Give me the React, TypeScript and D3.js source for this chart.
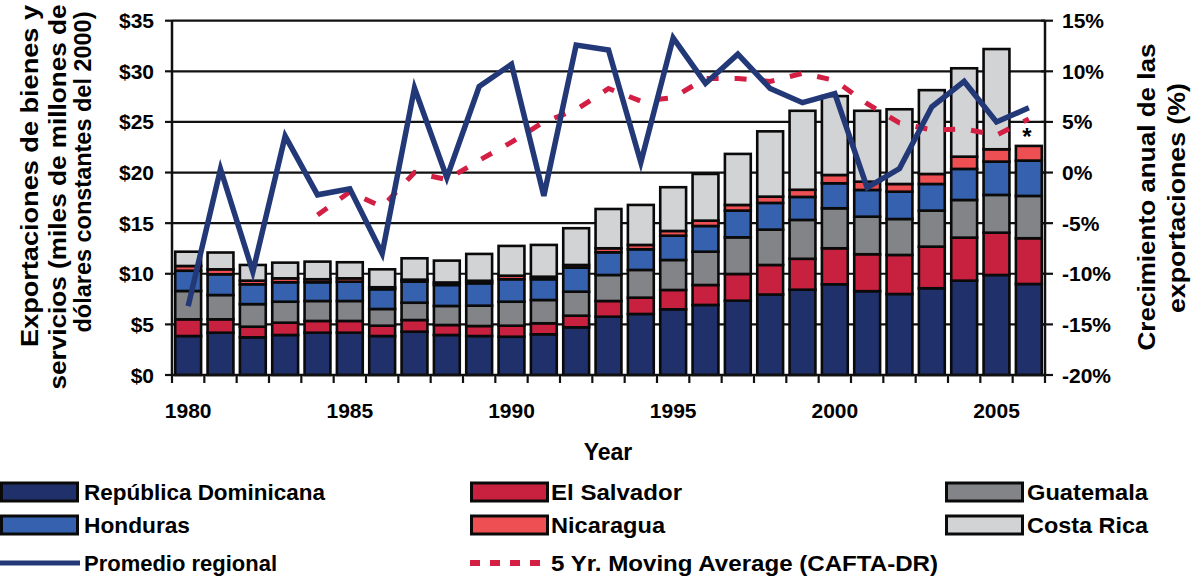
import React from 'react';
import * as d3 from 'd3';

const years = [1980, 1981, 1982, 1983, 1984, 1985, 1986, 1987, 1988, 1989, 1990, 1991, 1992, 1993, 1994, 1995, 1996, 1997, 1998, 1999, 2000, 2001, 2002, 2003, 2004, 2005, 2006];

const seriesNames = ['República Dominicana', 'El Salvador', 'Guatemala', 'Honduras', 'Nicaragua', 'Costa Rica'];

const dominicana = [3.85, 4.18, 3.72, 3.95, 4.18, 4.18, 3.85, 4.28, 3.95, 3.85, 3.78, 4.02, 4.71, 5.76, 6.03, 6.49, 6.92, 7.34, 7.95, 8.43, 8.96, 8.28, 8.0, 8.57, 9.32, 9.88, 8.99];
const elSalvador = [1.65, 1.32, 1.05, 1.22, 1.16, 1.16, 1.02, 1.15, 0.99, 0.99, 1.09, 1.09, 1.15, 1.55, 1.61, 1.91, 1.97, 2.64, 2.92, 3.05, 3.56, 3.65, 3.86, 4.11, 4.25, 4.18, 4.52];
const guatemala = [2.8, 2.4, 2.23, 2.07, 1.97, 1.97, 1.65, 1.71, 1.88, 2.01, 2.37, 2.3, 2.37, 2.57, 2.74, 2.96, 3.29, 3.62, 3.49, 3.84, 3.95, 3.71, 3.55, 3.56, 3.72, 3.73, 4.18];
const honduras = [2.0, 2.05, 1.96, 1.92, 1.85, 1.91, 1.95, 2.08, 2.07, 2.21, 2.22, 2.05, 2.37, 2.24, 2.04, 2.4, 2.54, 2.64, 2.64, 2.27, 2.47, 2.64, 2.7, 2.63, 3.07, 3.29, 3.49];
const nicaragua = [0.47, 0.49, 0.36, 0.39, 0.3, 0.33, 0.2, 0.2, 0.25, 0.25, 0.35, 0.25, 0.27, 0.4, 0.43, 0.47, 0.53, 0.56, 0.62, 0.71, 0.82, 0.82, 0.76, 0.99, 1.21, 1.22, 1.45];
const costaRica = [1.41, 1.66, 1.55, 1.55, 1.74, 1.59, 1.77, 2.11, 2.16, 2.65, 2.94, 3.14, 3.63, 3.88, 3.95, 4.32, 4.61, 5.04, 6.45, 7.8, 7.79, 7.0, 7.38, 8.28, 8.73, 9.9, 0];

// annual growth, %
const promedioRegional = [-13.2, 0.35, -9.8, 3.6, -2.2, -1.6, -8.0, 8.35, -0.5, 8.5, 10.7, -2.3, 12.6, 12.1, 1.0, 13.3, 8.8, 11.7, 8.3, 6.9, 7.8, -1.5, 0.4, 6.5, 9.0, 5.0, 6.4];
const movingAverage: (number | null)[] = [null, null, null, null, -4.2, -1.9, -3.4, 0.0, -0.7, 1.2, 3.0, 5.0, 6.2, 8.3, 7.05, 7.4, 9.3, 9.3, 9.0, 9.8, 9.1, 6.8, 4.9, 4.2, 4.3, 3.7, 5.3];

const leftTicks = [0, 5, 10, 15, 20, 25, 30, 35];
const rightTicks = [-20, -15, -10, -5, 0, 5, 10, 15];
const yearLabels = [1980, 1985, 1990, 1995, 2000, 2005];

const seriesColors = ['#20306A', '#C8203F', '#838487', '#3561AE', '#EE4F52', '#D2D3D5'];
const lineColor = '#233877';
const maColor = '#D41F45';
const FONT = '"Liberation Sans", Arial, sans-serif';

export default function App() {
  const W = 1199, H = 577;
  const left = 172, right = 1045, top = 20.7, bottom = 375;

  const x = d3.scaleBand<string>().domain(years.map(String)).range([left, right]).paddingInner(0.2).paddingOuter(0.1);
  const y = d3.scaleLinear().domain([0, 35]).range([bottom, top]);
  const y2 = d3.scaleLinear().domain([-20, 15]).range([bottom, top]);
  const bw = x.bandwidth();
  const step = x.step();

  const seriesArrays = [dominicana, elSalvador, guatemala, honduras, nicaragua, costaRica];
  const rows = years.map((yr, i) => {
    const r: any = { year: String(yr) };
    seriesNames.forEach((n, k) => (r[n] = seriesArrays[k][i]));
    return r;
  });
  const stacked = d3.stack<any>().keys(seriesNames)(rows);

  const cx = (i: number) => (x(String(years[i])) as number) + bw / 2;
  const lineGen = d3.line<number>().x((_, i) => cx(i)).y((d) => y2(d));
  const maGen = d3
    .line<number | null>()
    .defined((d) => d !== null)
    .x((_, i) => cx(i))
    .y((d) => y2(d as number));

  const boundaries = d3.range(years.length + 1).map((i) => left + i * step);

  const legendItems = [
    { name: seriesNames[0], col: 0, row: 0, type: 'rect', color: seriesColors[0], w: 241 },
    { name: seriesNames[1], col: 1, row: 0, type: 'rect', color: seriesColors[1], w: 131 },
    { name: seriesNames[2], col: 2, row: 0, type: 'rect', color: seriesColors[2], w: 121 },
    { name: seriesNames[3], col: 0, row: 1, type: 'rect', color: seriesColors[3], w: 106 },
    { name: seriesNames[4], col: 1, row: 1, type: 'rect', color: seriesColors[4], w: 114 },
    { name: seriesNames[5], col: 2, row: 1, type: 'rect', color: seriesColors[5], w: 121 },
    { name: 'Promedio regional', col: 0, row: 2, type: 'line', color: lineColor, w: 193 },
    { name: '5 Yr. Moving Average (CAFTA-DR)', col: 1, row: 2, type: 'dash', color: maColor, w: 387 },
  ];
  const colX = [0, 470, 945];
  const rowY = [492, 525, 563];

  return (
    <svg
      width={W}
      height={H}
      style={{ position: 'absolute', left: 0, top: 0, background: '#fff', fontFamily: FONT }}
    >
      <rect x={0} y={0} width={W} height={H} fill="#fff" />
      {/* gridlines */}
      {leftTicks.map((t) => (
        <line key={'g' + t} x1={left} x2={right} y1={y(t)} y2={y(t)} stroke="#111" strokeWidth={2.2} />
      ))}
      {/* bars */}
      {stacked.map((s, k) => (
        <g key={s.key} fill={seriesColors[k]}>
          {s.map((d, i) =>
            d[1] - d[0] > 0 ? (
              <rect
                key={i}
                x={x(d.data.year)}
                y={y(d[1])}
                width={bw}
                height={y(d[0]) - y(d[1])}
                stroke="#0a0a0a"
                strokeWidth={2.6}
              />
            ) : null
          )}
        </g>
      ))}
      {/* axes */}
      <line x1={left} x2={left} y1={top} y2={bottom + 1} stroke="#111" strokeWidth={2.5} />
      <line x1={right} x2={right} y1={top} y2={bottom + 1} stroke="#111" strokeWidth={2.5} />
      <line x1={left} x2={right} y1={bottom} y2={bottom} stroke="#111" strokeWidth={2.5} />
      {leftTicks.map((t) => (
        <g key={'lt' + t}>
          <line x1={left - 7} x2={left} y1={y(t)} y2={y(t)} stroke="#111" strokeWidth={2.2} />
          <text x={154} y={y(t)} dy="0.36em" textAnchor="end" fontSize={21} fontWeight="bold" fill="#000">
            {'$' + t}
          </text>
        </g>
      ))}
      {rightTicks.map((t) => (
        <g key={'rt' + t}>
          <line x1={right - 4} x2={right + 8} y1={y2(t)} y2={y2(t)} stroke="#111" strokeWidth={2.2} />
          <text x={1062} y={y2(t)} dy="0.36em" textAnchor="start" fontSize={21} fontWeight="bold" fill="#000">
            {t + '%'}
          </text>
        </g>
      ))}
      {boundaries.map((b, i) => (
        <line key={'xt' + i} x1={b} x2={b} y1={bottom} y2={bottom + 8} stroke="#111" strokeWidth={2.2} />
      ))}
      {yearLabels.map((yr) => (
        <text
          key={'yl' + yr}
          x={(x(String(yr)) as number) + bw / 2}
          y={418}
          textAnchor="middle"
          fontSize={21}
          fontWeight="bold"
          fill="#000"
        >
          {yr}
        </text>
      ))}
      <text x={608} y={460} textAnchor="middle" fontSize={23} fontWeight="bold" fill="#000">
        Year
      </text>
      {/* left axis title */}
      {[
        { t: 'Exportaciones de bienes y', cx: 30, cy: 176, len: 342 },
        { t: 'servicios (miles de millones de', cx: 58, cy: 197, len: 385 },
        { t: 'dólares constantes del 2000)', cx: 83, cy: 172, len: 321 },
      ].map((l) => (
        <text
          key={l.t}
          transform={`translate(${l.cx},${l.cy}) rotate(-90)`}
          textAnchor="middle"
          dy="0.35em"
          fontSize={24}
          fontWeight="bold"
          textLength={l.len}
          lengthAdjust="spacingAndGlyphs"
          fill="#000"
        >
          {l.t}
        </text>
      ))}
      {/* right axis title */}
      {[
        { t: 'Crecimiento anual de las', cx: 1147, cy: 197, len: 307 },
        { t: 'exportaciones (%)', cx: 1177, cy: 198, len: 230 },
      ].map((l) => (
        <text
          key={l.t}
          transform={`translate(${l.cx},${l.cy}) rotate(-90)`}
          textAnchor="middle"
          dy="0.35em"
          fontSize={24}
          fontWeight="bold"
          textLength={l.len}
          lengthAdjust="spacingAndGlyphs"
          fill="#000"
        >
          {l.t}
        </text>
      ))}
      {/* lines */}
      <path
        d={maGen(movingAverage) || ''}
        fill="none"
        stroke={maColor}
        strokeWidth={5}
        strokeDasharray="12,16"
      />
      <path
        d={lineGen(promedioRegional) || ''}
        fill="none"
        stroke={lineColor}
        strokeWidth={5.5}
        strokeLinejoin="miter"
      />
      <text x={1027} y={145} textAnchor="middle" fontSize={24} fontWeight="bold" fill="#000">
        *
      </text>
      {/* legend */}
      {legendItems.map((it) => {
        const lx = colX[it.col];
        const ly = rowY[it.row];
        return (
          <g key={it.name}>
            {it.type === 'rect' && (
              <rect x={lx + 1.5} y={ly - 9} width={76} height={18} fill={it.color} stroke="#0a0a0a" strokeWidth={3} />
            )}
            {it.type === 'line' && <line x1={lx} x2={lx + 80} y1={ly} y2={ly} stroke={it.color} strokeWidth={5} />}
            {it.type === 'dash' && (
              <line x1={lx} x2={lx + 80} y1={ly} y2={ly} stroke={it.color} strokeWidth={6} strokeDasharray="10,10" />
            )}
            <text
              x={it.col === 0 ? 84 : it.col === 1 ? 551 : 1027}
              y={ly}
              dy="0.36em"
              fontSize={22}
              fontWeight="bold"
              textLength={it.w}
              lengthAdjust="spacingAndGlyphs"
              fill="#000"
            >
              {it.name}
            </text>
          </g>
        );
      })}
    </svg>
  );
}
